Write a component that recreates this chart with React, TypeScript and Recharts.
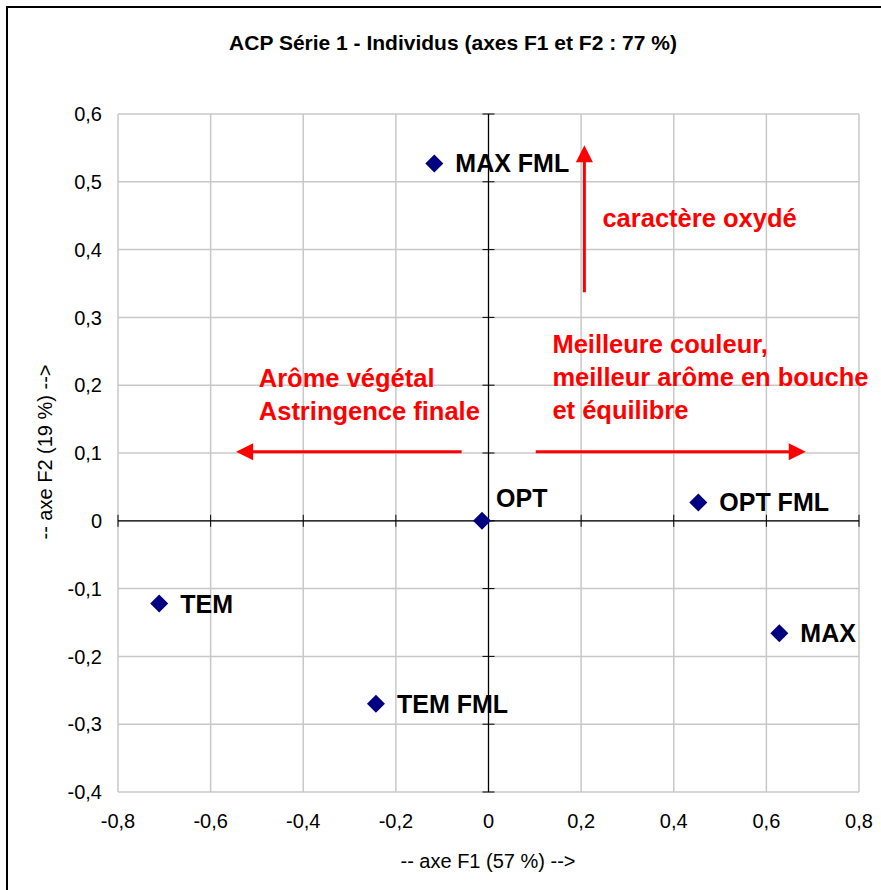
import {ScatterChart, Scatter, XAxis, YAxis, CartesianGrid, ReferenceLine, ReferenceDot} from "recharts"

const names = ["MAX FML", "OPT", "OPT FML", "TEM", "MAX", "TEM FML"]
const f1 = [-0.117, -0.014, 0.453, -0.711, 0.628, -0.243]
const f2 = [0.527, 0.0, 0.027, -0.122, -0.166, -0.27]

const xTicks = [-0.8, -0.6, -0.4, -0.2, 0, 0.2, 0.4, 0.6, 0.8]
const yTicks = [-0.4, -0.3, -0.2, -0.1, 0, 0.1, 0.2, 0.3, 0.4, 0.5, 0.6]

// arrows: tail -> tip, in axis units
const arrowTails = [{x: 0.207, y: 0.337}, {x: -0.058, y: 0.102}, {x: 0.102, y: 0.102}]
const arrowTips = [{x: 0.207, y: 0.554}, {x: -0.545, y: 0.102}, {x: 0.685, y: 0.102}]

const noteLines = [
    ["caractère oxydé"],
    ["Arôme végétal", "Astringence finale"],
    ["Meilleure couleur,", "meilleur arôme en bouche", "et équilibre"],
]
const noteAnchors = [{x: 0.246, y: 0.433}, {x: -0.496, y: 0.197}, {x: 0.138, y: 0.247}]

const data = names.map((name, i) => ({name, f1: f1[i], f2: f2[i]}))

const FONT = "'Liberation Sans', Arial, sans-serif"
const fmt = (v: number) => String(v).replace(".", ",")

function PointShape(props: any) {
    const {cx, cy, payload} = props
    const up = payload.name === "OPT"
    return (
        <g>
            <path d={`M${cx},${cy - 9} L${cx + 9},${cy} L${cx},${cy + 9} L${cx - 9},${cy} Z`} fill="#000080" />
            <text x={cx + (up ? 14 : 21)} y={cy + (up ? -14 : 9)} fontFamily={FONT} fontSize={25}
                  fontWeight="bold" fill="#000">{payload.name}</text>
        </g>
    )
}

function ArrowShape(props: any) {
    const {x1, y1, x2, y2} = props
    const dx = x2 - x1, dy = y2 - y1
    const len = Math.sqrt(dx * dx + dy * dy)
    const ux = dx / len, uy = dy / len
    const bx = x2 - ux * 17, by = y2 - uy * 17
    const px = -uy * 8.5, py = ux * 8.5
    return (
        <g>
            <line x1={x1} y1={y1} x2={bx + ux * 2} y2={by + uy * 2} stroke="#ff0000" strokeWidth={3} />
            <path d={`M${x2},${y2} L${bx + px},${by + py} L${bx - px},${by - py} Z`} fill="#ff0000" />
        </g>
    )
}

function tickMark(vertical: boolean) {
    return (p: any) => vertical
        ? <line x1={p.cx} y1={p.cy - 6} x2={p.cx} y2={p.cy + 6} stroke="#000" strokeWidth={1} />
        : <line x1={p.cx - 6} y1={p.cy} x2={p.cx + 6} y2={p.cy} stroke="#000" strokeWidth={1} />
}

function noteShape(lines: string[]) {
    return (p: any) => (
        <text fontFamily={FONT} fontSize={25.5} fontWeight="bold" fill="#ff0000">
            {lines.map((l, i) => <tspan key={i} x={p.cx} y={p.cy + i * 33}>{l}</tspan>)}
        </text>
    )
}

export default function App() {
    return (
        <div style={{position: "absolute", left: 0, top: 0, width: 881, height: 890, background: "#fff"}}>
            <ScatterChart width={881} height={890} margin={{top: 114, right: 22, bottom: 38, left: 0}}>
                <CartesianGrid stroke="#c8c8c8" strokeWidth={1.5} horizontalValues={yTicks} verticalValues={xTicks} />
                <XAxis type="number" dataKey="f1" domain={[-0.8, 0.8]} ticks={xTicks} tickFormatter={fmt}
                       axisLine={false} tickLine={false} tickSize={0} tickMargin={22} height={60}
                       tick={{fill: "#000", fontSize: 20, fontFamily: FONT}} interval={0} />
                <YAxis type="number" dataKey="f2" domain={[-0.4, 0.6]} ticks={yTicks} tickFormatter={fmt}
                       axisLine={false} tickLine={false} tickSize={0} tickMargin={16} width={118}
                       tick={{fill: "#000", fontSize: 20, fontFamily: FONT}} interval={0} />
                <ReferenceLine x={0} stroke="#000" strokeWidth={1.2} />
                <ReferenceLine y={0} stroke="#000" strokeWidth={1.2} />
                {yTicks.map(v => <ReferenceDot key={"ty" + v} x={0} y={v} r={0} shape={tickMark(false)} />)}
                {xTicks.map(v => <ReferenceDot key={"tx" + v} x={v} y={0} r={0} shape={tickMark(true)} />)}
                {arrowTails.map((t, i) => (
                    <ReferenceLine key={"a" + i} segment={[t, arrowTips[i]]} shape={ArrowShape} />
                ))}
                {noteAnchors.map((a, i) => (
                    <ReferenceDot key={"n" + i} x={a.x} y={a.y} r={0} shape={noteShape(noteLines[i])} />
                ))}
                <Scatter data={data} shape={PointShape} isAnimationActive={false} />
            </ScatterChart>
            <svg width={881} height={890} style={{position: "absolute", left: 0, top: 0, pointerEvents: "none"}}>
                <line x1={7} y1={7} x2={881} y2={7} stroke="#000" strokeWidth={2} />
                <line x1={7} y1={6} x2={7} y2={890} stroke="#000" strokeWidth={2} />
                <text x={453} y={50} textAnchor="middle" fontFamily={FONT} fontSize={21} fontWeight="bold">
                    ACP Série 1 - Individus (axes F1 et F2 : 77 %)
                </text>
                <text x={488} y={868} textAnchor="middle" fontFamily={FONT} fontSize={20}>
                    -- axe F1 (57 %) --&gt;
                </text>
                <text x={52} y={452} textAnchor="middle" fontFamily={FONT} fontSize={20}
                      transform="rotate(-90 52 452)">
                    -- axe F2 (19 %) --&gt;
                </text>
            </svg>
        </div>
    )
}
